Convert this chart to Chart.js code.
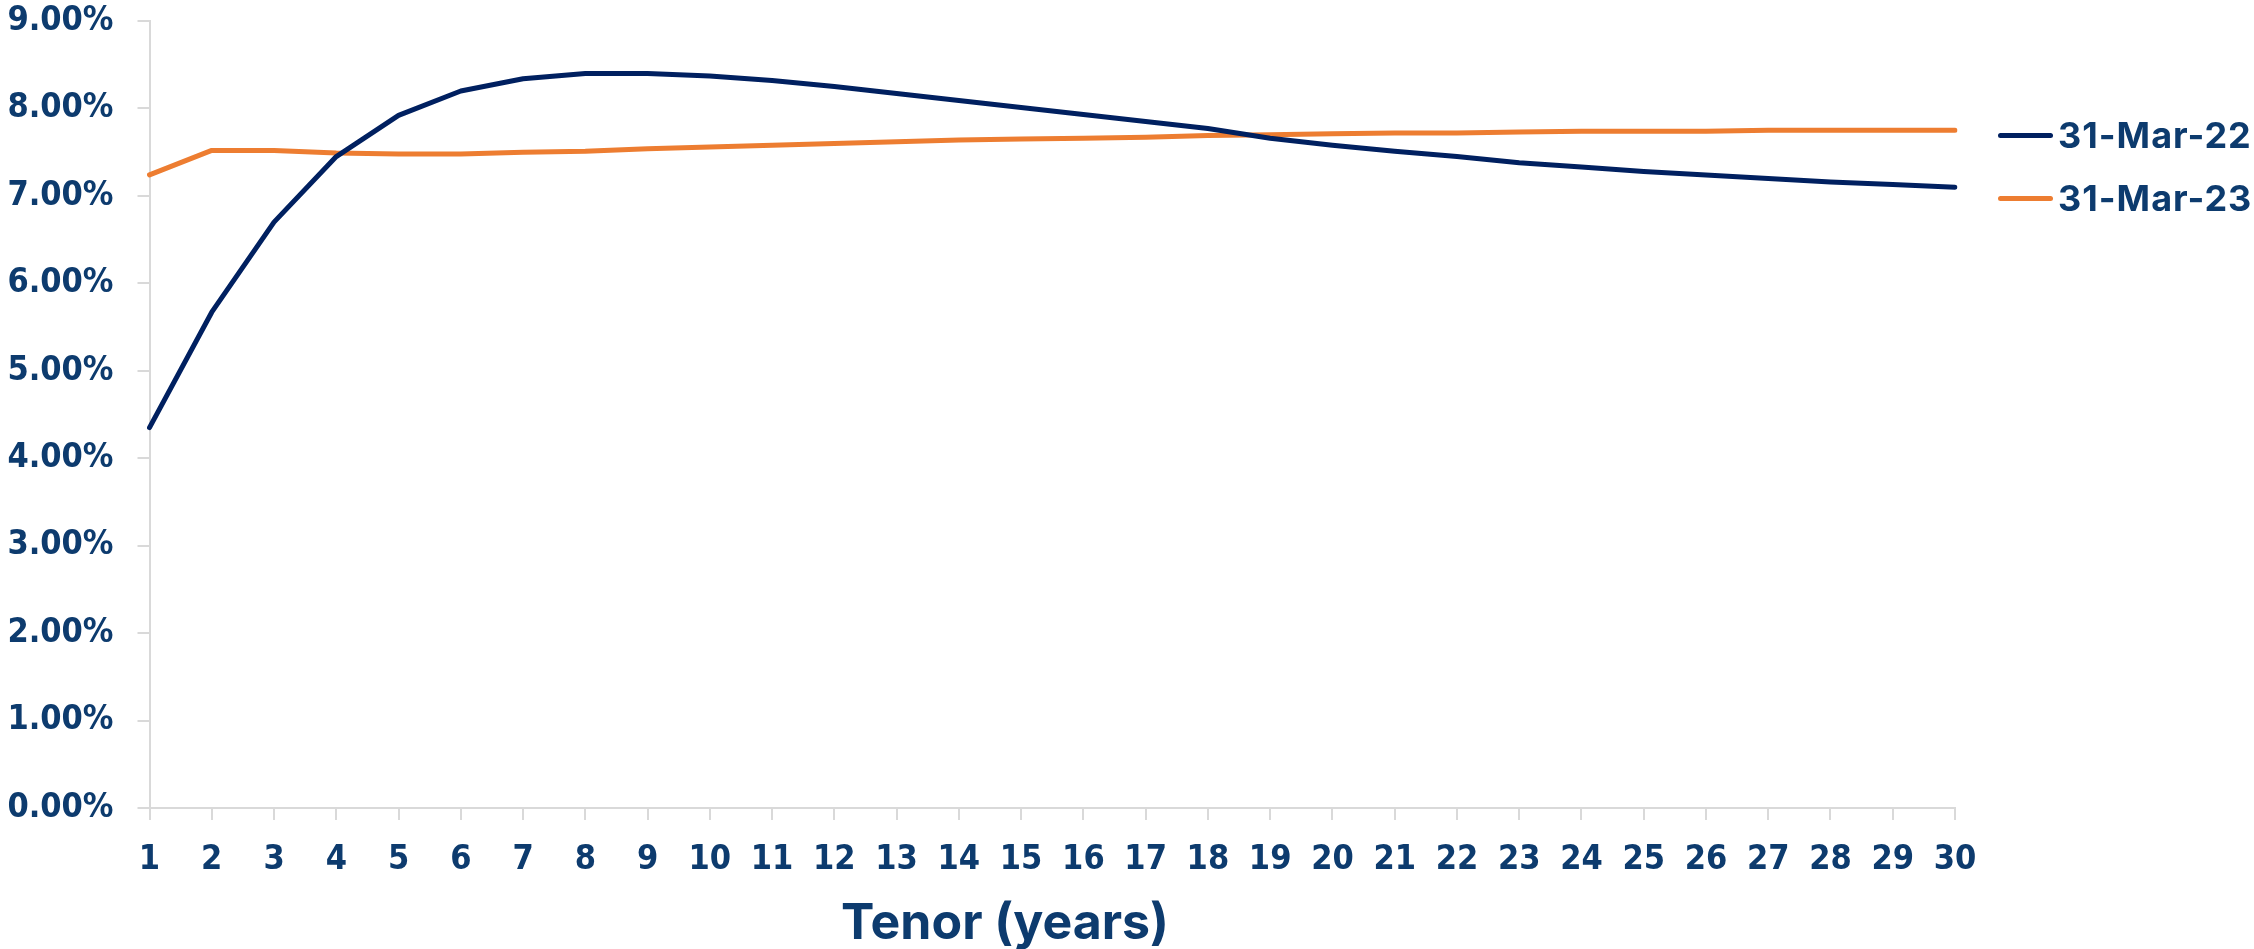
<!DOCTYPE html>
<html>
<head>
<meta charset="utf-8">
<script src="https://cdn.jsdelivr.net/npm/chart.js@4"></script>
<style>
  body { margin: 0; background: #fff; }
  #wrap { position: relative; width: 2254px; height: 949px; }
  #legend { position: absolute; left: 1998px; top: 108px; width: 256px; font: bold 36px Inter, "Open Sans", sans-serif; letter-spacing: 1px; color: #0d3b6e; white-space: nowrap; }
  .item { display: flex; align-items: center; height: 54px; margin-bottom: 9px; }
  .swatch { flex: 0 0 55px; height: 5px; border-radius: 3px; margin-right: 5px; }
</style>
</head>
<body>
<div id="wrap">
  <canvas id="curveChart"></canvas>
  <div id="legend"></div>
</div>
<script>
// tenor in years
const tenors = ['1','2','3','4','5','6','7','8','9','10','11','12','13','14','15',
  '16','17','18','19','20','21','22','23','24','25','26','27','28','29','30'];

// yields in %
const mar22 = [4.35, 5.67, 6.70, 7.45, 7.92, 8.20, 8.34, 8.40, 8.40, 8.37,
  8.32, 8.25, 8.17, 8.09, 8.01, 7.93, 7.85, 7.77, 7.66, 7.58,
  7.51, 7.45, 7.38, 7.33, 7.28, 7.24, 7.20, 7.16, 7.13, 7.10];
const mar23 = [7.24, 7.52, 7.52, 7.49, 7.48, 7.48, 7.50, 7.51, 7.54, 7.56,
  7.58, 7.60, 7.62, 7.64, 7.65, 7.66, 7.67, 7.69, 7.70, 7.71,
  7.72, 7.72, 7.73, 7.74, 7.74, 7.74, 7.75, 7.75, 7.75, 7.75];

const seriesNames = ['31-Mar-22', '31-Mar-23'];
const seriesColors = ['#002060', '#ED7D31'];

const textColor = '#0d3b6e';
const tickFont = { family: "'DejaVu Sans Condensed', 'Liberation Sans Narrow', sans-serif", size: 34, weight: 'bold' };

const chartDatasets = [mar22, mar23].map((vals, i) => ({
  label: seriesNames[i],
  data: vals,
  borderColor: seriesColors[i],
  backgroundColor: seriesColors[i],
  borderWidth: 5,
  pointRadius: 0,
  tension: 0,
  borderJoinStyle: 'round',
  borderCapStyle: 'round'
}));

const chart = new Chart(document.getElementById('curveChart').getContext('2d'), {
  type: 'line',
  data: { labels: tenors, datasets: chartDatasets },
  options: {
    responsive: true,
    maintainAspectRatio: false,
    animation: false,
    // right padding only sets where the bottom title is centred;
    // the plot's right edge comes from the x scale padding below
    layout: { padding: { left: 0, right: 244, top: 0, bottom: 0 } },
    plugins: {
      legend: { display: false },
      tooltip: { enabled: false },
      title: {
        display: true,
        position: 'bottom',
        text: 'Tenor (years)',
        color: textColor,
        font: { family: 'Inter, "Open Sans", sans-serif', size: 50, weight: 'bold', lineHeight: 1 },
        padding: { top: 18, bottom: 0 }
      }
    },
    scales: {
      x: {
        offset: false,
        afterFit: s => { s.height = 73; s.paddingRight = 299; },
        grid: { drawOnChartArea: false, drawTicks: true, tickLength: 12, color: '#d9d9d9', lineWidth: 2 },
        border: { display: true, color: '#d9d9d9', width: 2 },
        ticks: { color: textColor, font: tickFont, padding: 20, autoSkip: false, maxRotation: 0 }
      },
      y: {
        min: 0,
        max: 9,
        afterFit: s => { s.width = 149.5; s.paddingTop = 21; },
        grid: { drawOnChartArea: false, drawTicks: true, tickLength: 12, color: '#d9d9d9', lineWidth: 2 },
        border: { display: true, color: '#d9d9d9', width: 2 },
        ticks: {
          stepSize: 1,
          color: textColor,
          font: tickFont,
          padding: 24,
          callback: v => v.toFixed(2) + '%'
        }
      }
    }
  }
});

// legend built from the datasets
const legend = document.getElementById('legend');
chart.data.datasets.forEach(ds => {
  const item = document.createElement('div');
  item.className = 'item';
  item.innerHTML = '<span class="swatch" style="background:' + ds.borderColor + '"></span><span>' + ds.label + '</span>';
  legend.appendChild(item);
});
</script>
</body>
</html>
